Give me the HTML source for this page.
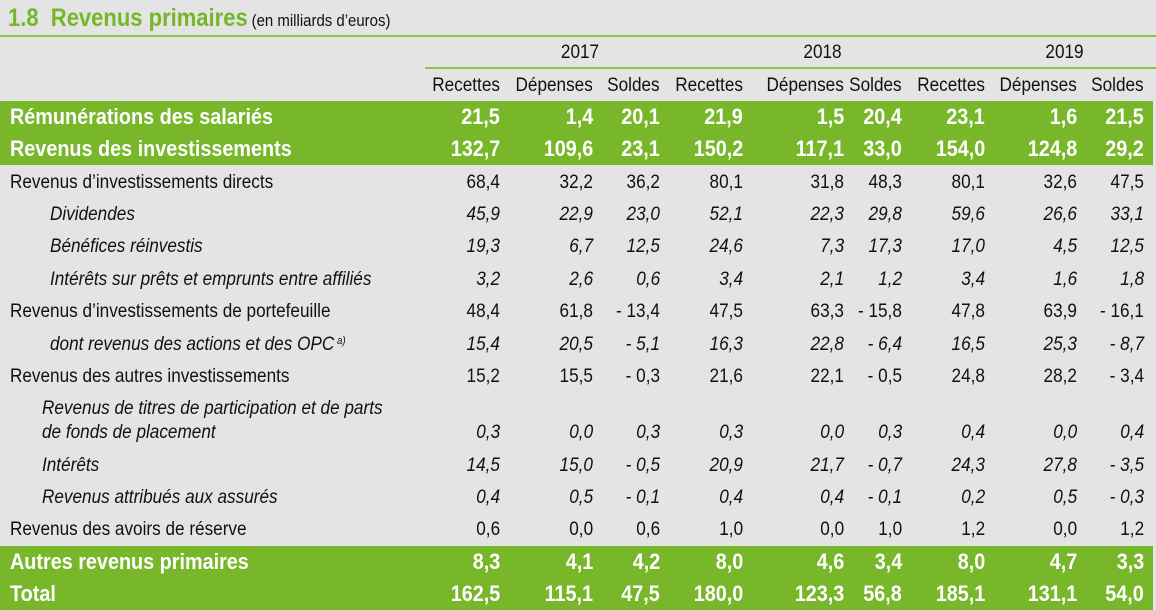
<!DOCTYPE html>
<html><head><meta charset="utf-8">
<style>
body{margin:0;width:1156px;height:610px;background:#e4e4e4;overflow:hidden;position:relative;font-family:"Liberation Sans Narrow","Liberation Sans",sans-serif;color:#111;}
.c{position:absolute;white-space:nowrap;font-size:19.5px;line-height:32px;transform:scaleX(0.88);transform-origin:left center;}
.r{transform-origin:right center;}
.m{transform-origin:center center;}
.band{position:absolute;left:0;width:1153px;height:32px;background:#78b729;}
.b{font-weight:bold;color:#fff;font-size:22.5px;}
.i{font-style:italic;}
.hl{position:absolute;height:2px;background:#8cc63f;}
sup{line-height:0;font-size:11px;vertical-align:6px;}
</style></head><body>
<div style="position:absolute;left:8px;top:4px;white-space:nowrap;transform:scaleX(0.88);transform-origin:left center;font-family:'Liberation Sans Narrow','Liberation Sans',sans-serif;">
<span style="color:#76b729;font-weight:bold;font-size:25px;">1.8&nbsp; Revenus primaires</span>
<span style="font-size:17px;color:#111;">(en milliards d’euros)</span></div>
<div class="hl" style="left:0;top:35px;width:1156px;"></div>
<div class="hl" style="left:425px;top:67px;width:731px;"></div>
<div id="t"></div>
<script>
const years=["2017","2018","2019"];
const heads=["Recettes","Dépenses","Soldes"];
const rights=[500,593,660,743,844,902,985,1077,1144];
const labels=["Rémunérations des salariés","Revenus des investissements","Revenus d’investissements directs","Dividendes","Bénéfices réinvestis","Intérêts sur prêts et emprunts entre affiliés","Revenus d’investissements de portefeuille","dont revenus des actions et des OPC","Revenus des autres investissements","Revenus de titres de participation et de parts","Intérêts","Revenus attribués aux assurés","Revenus des avoirs de réserve","Autres revenus primaires","Total"];
const values=[
["21,5","1,4","20,1","21,9","1,5","20,4","23,1","1,6","21,5"],
["132,7","109,6","23,1","150,2","117,1","33,0","154,0","124,8","29,2"],
["68,4","32,2","36,2","80,1","31,8","48,3","80,1","32,6","47,5"],
["45,9","22,9","23,0","52,1","22,3","29,8","59,6","26,6","33,1"],
["19,3","6,7","12,5","24,6","7,3","17,3","17,0","4,5","12,5"],
["3,2","2,6","0,6","3,4","2,1","1,2","3,4","1,6","1,8"],
["48,4","61,8","- 13,4","47,5","63,3","- 15,8","47,8","63,9","- 16,1"],
["15,4","20,5","- 5,1","16,3","22,8","- 6,4","16,5","25,3","- 8,7"],
["15,2","15,5","- 0,3","21,6","22,1","- 0,5","24,8","28,2","- 3,4"],
["0,3","0,0","0,3","0,3","0,0","0,3","0,4","0,0","0,4"],
["14,5","15,0","- 0,5","20,9","21,7","- 0,7","24,3","27,8","- 3,5"],
["0,4","0,5","- 0,1","0,4","0,4","- 0,1","0,2","0,5","- 0,3"],
["0,6","0,0","0,6","1,0","0,0","1,0","1,2","0,0","1,2"],
["8,3","4,1","4,2","8,0","4,6","3,4","8,0","4,7","3,3"],
["162,5","115,1","47,5","180,0","123,3","56,8","185,1","131,1","54,0"]];
const tops=[101,133,166,198,230,263,295,328,360,416,449,481,513,546,578];
const styles=["b","b","","i","i","i","","i","","i","i","i","","b","b"];
const indents=[10,10,10,50,50,50,10,50,10,42,42,42,10,10,10];
const T=document.getElementById('t');
function mk(cls,txt,css){const d=document.createElement('div');d.className='c '+cls;d.textContent=txt;d.style.cssText=css;T.appendChild(d);return d;}
years.forEach((y,i)=>{const d=mk('m',y,`left:${rights[i*3]-70}px;width:${rights[i*3+2]-rights[i*3]+140}px;text-align:center;top:36px;`);

});
rights.forEach((r,j)=>{const d=mk('r',heads[j%3],`right:${1156-r}px;top:69px;`);

});
labels.forEach((l,k)=>{
 if(styles[k]==='b'){const b=document.createElement('div');b.className='band';b.style.top=tops[k]+'px';
 
 
 T.appendChild(b);}
 let lt=tops[k];
 if(k===9){const d0=mk(styles[k],l,`left:${indents[k]}px;top:${lt-24}px;`);
 
 
 l='de fonds de placement';}
 const d=mk(styles[k],l,`left:${indents[k]}px;top:${lt}px;`);
 
 
 if(k===7){const s=document.createElement('sup');s.textContent=' a)';d.appendChild(s);}
 values[k].forEach((v,j)=>{const c=mk(styles[k]+' r',v,`right:${1156-rights[j]}px;top:${lt}px;`);
 
 });
});
</script>
</body></html>
